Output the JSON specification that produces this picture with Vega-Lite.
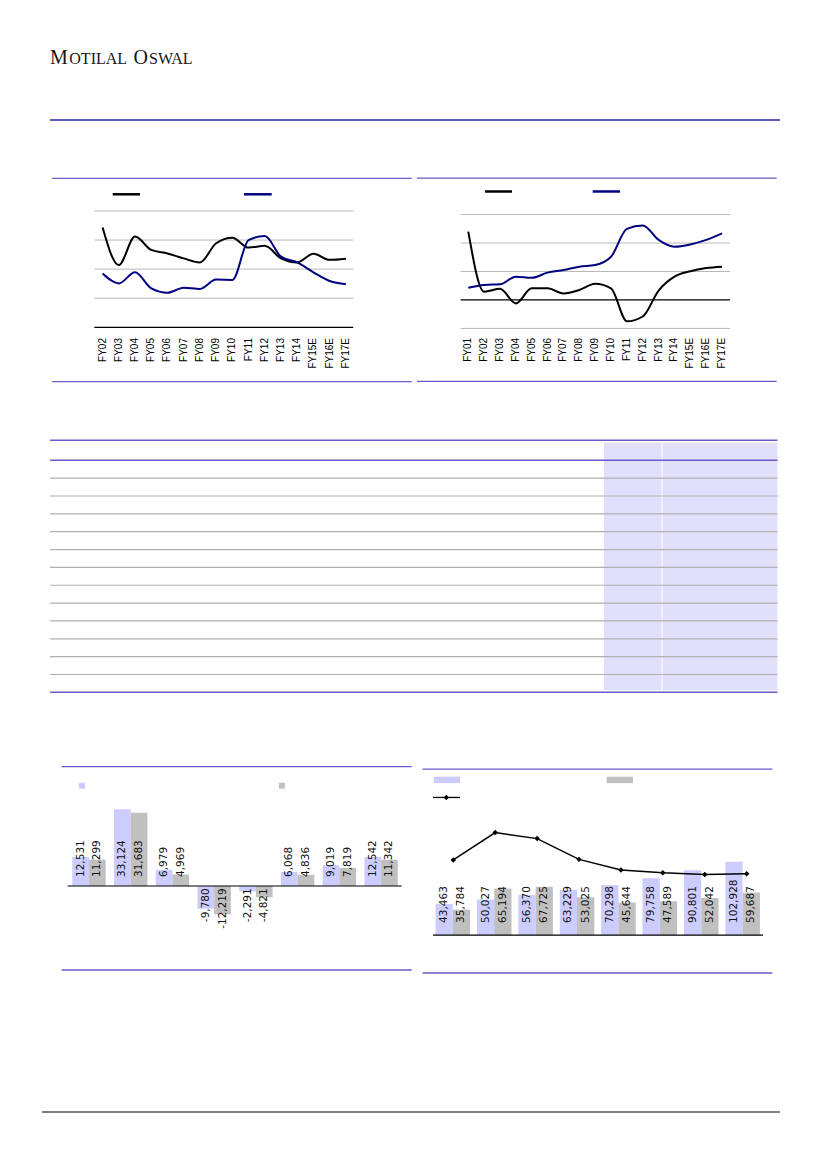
{
"$schema": "https://vega.github.io/schema/vega-lite/v6.json",
"width": 827, "height": 1169, "padding": 0,
"autosize": {"type": "fit", "contains": "padding"},
"background": "#ffffff",
"usermeta": {"embedOptions": {"actions": false}},
"config": {"view": {"stroke": null}, "locale": {"number": {"decimal": ".", "thousands": ",", "grouping": [3], "currency": ["", ""], "minus": "-"}}},
"data": {"values": [{}]},
"datasets": {
"tl": [
{"fy":"FY02","i":0,"a":3.43,"b":1.85},{"fy":"FY03","i":1,"a":2.14,"b":1.51},{"fy":"FY04","i":2,"a":3.12,"b":1.89},{"fy":"FY05","i":3,"a":2.66,"b":1.34},
{"fy":"FY06","i":4,"a":2.54,"b":1.19},{"fy":"FY07","i":5,"a":2.37,"b":1.36},{"fy":"FY08","i":6,"a":2.23,"b":1.32},{"fy":"FY09","i":7,"a":2.89,"b":1.64},
{"fy":"FY10","i":8,"a":3.08,"b":1.63},{"fy":"FY11","i":9,"a":2.74,"b":3.0},{"fy":"FY12","i":10,"a":2.8,"b":3.14},{"fy":"FY13","i":11,"a":2.37,"b":2.43},
{"fy":"FY14","i":12,"a":2.23,"b":2.23},{"fy":"FY15E","i":13,"a":2.53,"b":1.89},{"fy":"FY16E","i":14,"a":2.32,"b":1.59},{"fy":"FY17E","i":15,"a":2.36,"b":1.48}
],
"tr": [
{"fy":"FY01","i":0,"a":2.4,"b":0.43},{"fy":"FY02","i":1,"a":0.29,"b":0.53},{"fy":"FY03","i":2,"a":0.39,"b":0.55},{"fy":"FY04","i":3,"a":-0.12,"b":0.82},
{"fy":"FY05","i":4,"a":0.41,"b":0.78},{"fy":"FY06","i":5,"a":0.41,"b":0.96},{"fy":"FY07","i":6,"a":0.23,"b":1.05},{"fy":"FY08","i":7,"a":0.35,"b":1.17},
{"fy":"FY09","i":8,"a":0.57,"b":1.23},{"fy":"FY10","i":9,"a":0.41,"b":1.52},{"fy":"FY11","i":10,"a":-0.75,"b":2.5},{"fy":"FY12","i":11,"a":-0.58,"b":2.62},
{"fy":"FY13","i":12,"a":0.33,"b":2.11},{"fy":"FY14","i":13,"a":0.82,"b":1.87},{"fy":"FY15E","i":14,"a":1.01,"b":1.95},{"fy":"FY16E","i":15,"a":1.12,"b":2.11},
{"fy":"FY17E","i":16,"a":1.17,"b":2.34}
],
"bl": [
{"g":0,"a":12531,"b":11299},{"g":1,"a":33124,"b":31683},{"g":2,"a":6979,"b":4969},{"g":3,"a":-9780,"b":-12219},
{"g":4,"a":-2291,"b":-4821},{"g":5,"a":6068,"b":4836},{"g":6,"a":9019,"b":7819},{"g":7,"a":12542,"b":11342}
],
"br": [
{"g":0,"a":43463,"b":35784,"r":105.5},{"g":1,"a":50027,"b":65194,"r":143.9},{"g":2,"a":56370,"b":67725,"r":135.4},{"g":3,"a":63229,"b":53025,"r":106.3},
{"g":4,"a":70298,"b":45644,"r":91.4},{"g":5,"a":79758,"b":47589,"r":87.6},{"g":6,"a":90801,"b":52042,"r":85.2},{"g":7,"a":102928,"b":59687,"r":86.2}
]
},
"resolve": {"scale": {"x": "independent", "y": "independent"}},
"layer": [
{"layer": [
 {"mark": {"type": "rule", "color": "#2424a4", "strokeWidth": 1.3}, "encoding": {"x": {"datum": 50, "type": "quantitative", "scale": {"domain": [0, 827], "nice": false, "zero": false}, "axis": null}, "x2": {"datum": 780}, "y": {"datum": 120, "type": "quantitative", "scale": {"domain": [0, 1169], "nice": false, "zero": false, "reverse": true}, "axis": null}}},
 {"mark": {"type": "rule", "color": "#555555", "strokeWidth": 1.5}, "encoding": {"x": {"datum": 42, "type": "quantitative", "scale": {"domain": [0, 827], "nice": false, "zero": false}, "axis": null}, "x2": {"datum": 780}, "y": {"datum": 1112, "type": "quantitative", "scale": {"domain": [0, 1169], "nice": false, "zero": false, "reverse": true}, "axis": null}}},
 {"mark": {"type": "text", "text": "M", "font": "Liberation Serif", "fontSize": 20, "align": "left", "baseline": "alphabetic", "color": "#161616"}, "encoding": {"x": {"datum": 50, "type": "quantitative", "scale": {"domain": [0, 827], "nice": false, "zero": false}, "axis": null}, "y": {"datum": 64.3, "type": "quantitative", "scale": {"domain": [0, 1169], "nice": false, "zero": false, "reverse": true}, "axis": null}}},
 {"mark": {"type": "text", "text": "OTILAL", "font": "Liberation Serif", "fontSize": 16, "letterSpacing": 1.5, "align": "left", "baseline": "alphabetic", "color": "#161616"}, "encoding": {"x": {"datum": 69.3, "type": "quantitative", "scale": {"domain": [0, 827], "nice": false, "zero": false}, "axis": null}, "y": {"datum": 64.3, "type": "quantitative", "scale": {"domain": [0, 1169], "nice": false, "zero": false, "reverse": true}, "axis": null}}},
 {"mark": {"type": "text", "text": "O", "font": "Liberation Serif", "fontSize": 20, "align": "left", "baseline": "alphabetic", "color": "#161616"}, "encoding": {"x": {"datum": 133.5, "type": "quantitative", "scale": {"domain": [0, 827], "nice": false, "zero": false}, "axis": null}, "y": {"datum": 64.3, "type": "quantitative", "scale": {"domain": [0, 1169], "nice": false, "zero": false, "reverse": true}, "axis": null}}},
 {"mark": {"type": "text", "text": "SWAL", "font": "Liberation Serif", "fontSize": 16, "align": "left", "baseline": "alphabetic", "color": "#161616"}, "encoding": {"x": {"datum": 149, "type": "quantitative", "scale": {"domain": [0, 827], "nice": false, "zero": false}, "axis": null}, "y": {"datum": 64.3, "type": "quantitative", "scale": {"domain": [0, 1169], "nice": false, "zero": false, "reverse": true}, "axis": null}}}
]},
{"layer": [
 {"data": {"values": [{"t": 1}, {"t": 2}, {"t": 3}, {"t": 4}]}, "mark": {"type": "rule", "color": "#b8b8b8", "strokeWidth": 1}, "encoding": {"x": {"datum": -0.5117, "type": "quantitative", "scale": {"domain": [-6.3255, 44.661], "nice": false, "zero": false}, "axis": null}, "x2": {"datum": 15.456}, "y": {"field": "t", "type": "quantitative", "scale": {"domain": [-28.944, 11.255], "nice": false, "zero": false}, "axis": null}}},
 {"mark": {"type": "rule", "color": "#000000", "strokeWidth": 1.2}, "encoding": {"x": {"datum": -0.5117, "type": "quantitative", "scale": {"domain": [-6.3255, 44.661], "nice": false, "zero": false}, "axis": null}, "x2": {"datum": 15.456}, "y": {"datum": 0, "type": "quantitative", "scale": {"domain": [-28.944, 11.255], "nice": false, "zero": false}, "axis": null}}},
 {"mark": {"type": "rule", "color": "#6a5acd", "strokeWidth": 1.3}, "encoding": {"x": {"datum": -3.12, "type": "quantitative", "scale": {"domain": [-6.3255, 44.661], "nice": false, "zero": false}, "axis": null}, "x2": {"datum": 19.057}, "y": {"datum": 5.124, "type": "quantitative", "scale": {"domain": [-28.944, 11.255], "nice": false, "zero": false}, "axis": null}}},
 {"mark": {"type": "rule", "color": "#6a5acd", "strokeWidth": 1.3}, "encoding": {"x": {"datum": -3.12, "type": "quantitative", "scale": {"domain": [-6.3255, 44.661], "nice": false, "zero": false}, "axis": null}, "x2": {"datum": 19.057}, "y": {"datum": -1.871, "type": "quantitative", "scale": {"domain": [-28.944, 11.255], "nice": false, "zero": false}, "axis": null}}},
 {"mark": {"type": "rule", "color": "#000000", "strokeWidth": 2.5}, "encoding": {"x": {"datum": 0.6227, "type": "quantitative", "scale": {"domain": [-6.3255, 44.661], "nice": false, "zero": false}, "axis": null}, "x2": {"datum": 2.3058}, "y": {"datum": 4.574, "type": "quantitative", "scale": {"domain": [-28.944, 11.255], "nice": false, "zero": false}, "axis": null}}},
 {"mark": {"type": "rule", "color": "#000080", "strokeWidth": 2.5}, "encoding": {"x": {"datum": 8.7176, "type": "quantitative", "scale": {"domain": [-6.3255, 44.661], "nice": false, "zero": false}, "axis": null}, "x2": {"datum": 10.4254}, "y": {"datum": 4.574, "type": "quantitative", "scale": {"domain": [-28.944, 11.255], "nice": false, "zero": false}, "axis": null}}},
 {"data": {"name": "tl"}, "mark": {"type": "line", "color": "#000000", "strokeWidth": 2, "interpolate": "monotone"}, "encoding": {"x": {"field": "i", "type": "quantitative", "scale": {"domain": [-6.3255, 44.661], "nice": false, "zero": false}, "axis": null}, "y": {"field": "a", "type": "quantitative", "scale": {"domain": [-28.944, 11.255], "nice": false, "zero": false}, "axis": null}}},
 {"data": {"name": "tl"}, "mark": {"type": "line", "color": "#000080", "strokeWidth": 2, "interpolate": "monotone"}, "encoding": {"x": {"field": "i", "type": "quantitative", "scale": {"domain": [-6.3255, 44.661], "nice": false, "zero": false}, "axis": null}, "y": {"field": "b", "type": "quantitative", "scale": {"domain": [-28.944, 11.255], "nice": false, "zero": false}, "axis": null}}},
 {"data": {"name": "tl"}, "mark": {"type": "text", "angle": -90, "align": "right", "baseline": "middle", "font": "Liberation Sans", "fontSize": 10, "color": "#000000"}, "encoding": {"x": {"field": "i", "type": "quantitative", "scale": {"domain": [-6.3255, 44.661], "nice": false, "zero": false}, "axis": null}, "y": {"datum": -0.368, "type": "quantitative", "scale": {"domain": [-28.944, 11.255], "nice": false, "zero": false}, "axis": null}, "text": {"field": "fy"}}}
]},
{"layer": [
 {"data": {"values": [{"t": -1}, {"t": 1}, {"t": 2}, {"t": 3}]}, "mark": {"type": "rule", "color": "#b8b8b8", "strokeWidth": 1}, "encoding": {"x": {"datum": -0.479, "type": "quantitative", "scale": {"domain": [-29.527, 22.617], "nice": false, "zero": false}, "axis": null}, "x2": {"datum": 16.5}, "y": {"field": "t", "type": "quantitative", "scale": {"domain": [-30.526, 10.537], "nice": false, "zero": false}, "axis": null}}},
 {"mark": {"type": "rule", "color": "#000000", "strokeWidth": 1.2}, "encoding": {"x": {"datum": -0.479, "type": "quantitative", "scale": {"domain": [-29.527, 22.617], "nice": false, "zero": false}, "axis": null}, "x2": {"datum": 16.5}, "y": {"datum": 0, "type": "quantitative", "scale": {"domain": [-30.526, 10.537], "nice": false, "zero": false}, "axis": null}}},
 {"mark": {"type": "rule", "color": "#6a5acd", "strokeWidth": 1.3}, "encoding": {"x": {"datum": -3.2346, "type": "quantitative", "scale": {"domain": [-29.527, 22.617], "nice": false, "zero": false}, "axis": null}, "x2": {"datum": 19.445}, "y": {"datum": 4.281, "type": "quantitative", "scale": {"domain": [-30.526, 10.537], "nice": false, "zero": false}, "axis": null}}},
 {"mark": {"type": "rule", "color": "#6a5acd", "strokeWidth": 1.3}, "encoding": {"x": {"datum": -3.2346, "type": "quantitative", "scale": {"domain": [-29.527, 22.617], "nice": false, "zero": false}, "axis": null}, "x2": {"datum": 19.445}, "y": {"datum": -2.856, "type": "quantitative", "scale": {"domain": [-30.526, 10.537], "nice": false, "zero": false}, "axis": null}}},
 {"mark": {"type": "rule", "color": "#000000", "strokeWidth": 2.5}, "encoding": {"x": {"datum": 1.053, "type": "quantitative", "scale": {"domain": [-29.527, 22.617], "nice": false, "zero": false}, "axis": null}, "x2": {"datum": 2.755}, "y": {"datum": 3.811, "type": "quantitative", "scale": {"domain": [-30.526, 10.537], "nice": false, "zero": false}, "axis": null}}},
 {"mark": {"type": "rule", "color": "#000080", "strokeWidth": 2.5}, "encoding": {"x": {"datum": 7.844, "type": "quantitative", "scale": {"domain": [-29.527, 22.617], "nice": false, "zero": false}, "axis": null}, "x2": {"datum": 9.565}, "y": {"datum": 3.811, "type": "quantitative", "scale": {"domain": [-30.526, 10.537], "nice": false, "zero": false}, "axis": null}}},
 {"data": {"name": "tr"}, "mark": {"type": "line", "color": "#000000", "strokeWidth": 2, "interpolate": "monotone"}, "encoding": {"x": {"field": "i", "type": "quantitative", "scale": {"domain": [-29.527, 22.617], "nice": false, "zero": false}, "axis": null}, "y": {"field": "a", "type": "quantitative", "scale": {"domain": [-30.526, 10.537], "nice": false, "zero": false}, "axis": null}}},
 {"data": {"name": "tr"}, "mark": {"type": "line", "color": "#000080", "strokeWidth": 2, "interpolate": "monotone"}, "encoding": {"x": {"field": "i", "type": "quantitative", "scale": {"domain": [-29.527, 22.617], "nice": false, "zero": false}, "axis": null}, "y": {"field": "b", "type": "quantitative", "scale": {"domain": [-30.526, 10.537], "nice": false, "zero": false}, "axis": null}}},
 {"data": {"name": "tr"}, "mark": {"type": "text", "angle": -90, "align": "right", "baseline": "middle", "font": "Liberation Sans", "fontSize": 10, "color": "#000000"}, "encoding": {"x": {"field": "i", "type": "quantitative", "scale": {"domain": [-29.527, 22.617], "nice": false, "zero": false}, "axis": null}, "y": {"datum": -1.333, "type": "quantitative", "scale": {"domain": [-30.526, 10.537], "nice": false, "zero": false}, "axis": null}, "text": {"field": "fy"}}}
]},
{"layer": [
 {"mark": {"type": "rect", "color": "#e0e0fc"}, "encoding": {"x": {"datum": 6.002, "type": "quantitative", "scale": {"domain": [-4.335, 9.8185], "nice": false, "zero": false}, "axis": null}, "x2": {"datum": 6.986}, "y": {"datum": -0.986, "type": "quantitative", "scale": {"domain": [-25.787, 39.703], "nice": false, "zero": false, "reverse": true}, "axis": null}, "y2": {"datum": 12.885}}},
 {"mark": {"type": "rect", "color": "#e0e0fc"}, "encoding": {"x": {"datum": 7.003, "type": "quantitative", "scale": {"domain": [-4.335, 9.8185], "nice": false, "zero": false}, "axis": null}, "x2": {"datum": 8.971}, "y": {"datum": -0.986, "type": "quantitative", "scale": {"domain": [-25.787, 39.703], "nice": false, "zero": false, "reverse": true}, "axis": null}, "y2": {"datum": 12.885}}},
 {"data": {"values": [{"r": 1}, {"r": 2}, {"r": 3}, {"r": 4}, {"r": 5}, {"r": 6}, {"r": 7}, {"r": 8}, {"r": 9}, {"r": 10}, {"r": 11}, {"r": 12}]}, "mark": {"type": "rule", "color": "#b0b0b0", "strokeWidth": 1.2}, "encoding": {"x": {"datum": -3.478, "type": "quantitative", "scale": {"domain": [-4.335, 9.8185], "nice": false, "zero": false}, "axis": null}, "x2": {"datum": 8.971}, "y": {"field": "r", "type": "quantitative", "scale": {"domain": [-25.787, 39.703], "nice": false, "zero": false, "reverse": true}, "axis": null}}},
 {"mark": {"type": "rule", "color": "#6a5acd", "strokeWidth": 1.5}, "encoding": {"x": {"datum": -3.478, "type": "quantitative", "scale": {"domain": [-4.335, 9.8185], "nice": false, "zero": false}, "axis": null}, "x2": {"datum": 8.971}, "y": {"datum": -1.1204, "type": "quantitative", "scale": {"domain": [-25.787, 39.703], "nice": false, "zero": false, "reverse": true}, "axis": null}}},
 {"mark": {"type": "rule", "color": "#6a5acd", "strokeWidth": 1.5}, "encoding": {"x": {"datum": -3.478, "type": "quantitative", "scale": {"domain": [-4.335, 9.8185], "nice": false, "zero": false}, "axis": null}, "x2": {"datum": 8.971}, "y": {"datum": 0, "type": "quantitative", "scale": {"domain": [-25.787, 39.703], "nice": false, "zero": false, "reverse": true}, "axis": null}}},
 {"mark": {"type": "rule", "color": "#6a5acd", "strokeWidth": 1.5}, "encoding": {"x": {"datum": -3.478, "type": "quantitative", "scale": {"domain": [-4.335, 9.8185], "nice": false, "zero": false}, "axis": null}, "x2": {"datum": 8.971}, "y": {"datum": 13, "type": "quantitative", "scale": {"domain": [-25.787, 39.703], "nice": false, "zero": false, "reverse": true}, "axis": null}}}
]},
{"layer": [
 {"mark": {"type": "rule", "color": "#6a5acd", "strokeWidth": 1.3}, "encoding": {"x": {"datum": -0.6558, "type": "quantitative", "scale": {"domain": [-2.0123, 17.566], "nice": false, "zero": false}, "axis": null}, "x2": {"datum": 7.734}, "y": {"datum": 51523, "type": "quantitative", "scale": {"domain": [-122220, 382639], "nice": false, "zero": false}, "axis": null}}},
 {"mark": {"type": "rule", "color": "#6a5acd", "strokeWidth": 1.3}, "encoding": {"x": {"datum": -0.6558, "type": "quantitative", "scale": {"domain": [-2.0123, 17.566], "nice": false, "zero": false}, "axis": null}, "x2": {"datum": 7.734}, "y": {"datum": -36277, "type": "quantitative", "scale": {"domain": [-122220, 382639], "nice": false, "zero": false}, "axis": null}}},
 {"data": {"name": "bl"}, "mark": {"type": "bar", "color": "#ccccff", "width": 16.7, "xOffset": -8.35}, "encoding": {"x": {"field": "g", "type": "quantitative", "scale": {"domain": [-2.0123, 17.566], "nice": false, "zero": false}, "axis": null}, "y": {"field": "a", "type": "quantitative", "scale": {"domain": [-122220, 382639], "nice": false, "zero": false}, "axis": null}, "y2": {"datum": 0}}},
 {"data": {"name": "bl"}, "mark": {"type": "bar", "color": "#c0c0c0", "width": 16.7, "xOffset": 8.35}, "encoding": {"x": {"field": "g", "type": "quantitative", "scale": {"domain": [-2.0123, 17.566], "nice": false, "zero": false}, "axis": null}, "y": {"field": "b", "type": "quantitative", "scale": {"domain": [-122220, 382639], "nice": false, "zero": false}, "axis": null}, "y2": {"datum": 0}}},
 {"mark": {"type": "rule", "color": "#000000", "strokeWidth": 1.2}, "encoding": {"x": {"datum": -0.514, "type": "quantitative", "scale": {"domain": [-2.0123, 17.566], "nice": false, "zero": false}, "axis": null}, "x2": {"datum": 7.495}, "y": {"datum": 0, "type": "quantitative", "scale": {"domain": [-122220, 382639], "nice": false, "zero": false}, "axis": null}}},
 {"data": {"name": "bl"}, "transform": [{"filter": "datum.a >= 0"}], "mark": {"type": "text", "angle": -90, "align": "left", "baseline": "middle", "dx": 9, "xOffset": -8.35, "font": "DejaVu Sans", "fontSize": 10.5, "color": "#111111"}, "encoding": {"x": {"field": "g", "type": "quantitative", "scale": {"domain": [-2.0123, 17.566], "nice": false, "zero": false}, "axis": null}, "y": {"datum": 0, "type": "quantitative", "scale": {"domain": [-122220, 382639], "nice": false, "zero": false}, "axis": null}, "text": {"field": "a", "type": "quantitative", "format": ","}}},
 {"data": {"name": "bl"}, "transform": [{"filter": "datum.a < 0"}], "mark": {"type": "text", "angle": -90, "align": "right", "baseline": "middle", "dx": -2.3, "xOffset": -8.35, "font": "DejaVu Sans", "fontSize": 10.5, "color": "#111111"}, "encoding": {"x": {"field": "g", "type": "quantitative", "scale": {"domain": [-2.0123, 17.566], "nice": false, "zero": false}, "axis": null}, "y": {"datum": 0, "type": "quantitative", "scale": {"domain": [-122220, 382639], "nice": false, "zero": false}, "axis": null}, "text": {"field": "a", "type": "quantitative", "format": ","}}},
 {"data": {"name": "bl"}, "transform": [{"filter": "datum.b >= 0"}], "mark": {"type": "text", "angle": -90, "align": "left", "baseline": "middle", "dx": 9, "xOffset": 8.35, "font": "DejaVu Sans", "fontSize": 10.5, "color": "#111111"}, "encoding": {"x": {"field": "g", "type": "quantitative", "scale": {"domain": [-2.0123, 17.566], "nice": false, "zero": false}, "axis": null}, "y": {"datum": 0, "type": "quantitative", "scale": {"domain": [-122220, 382639], "nice": false, "zero": false}, "axis": null}, "text": {"field": "b", "type": "quantitative", "format": ","}}},
 {"data": {"name": "bl"}, "transform": [{"filter": "datum.b < 0"}], "mark": {"type": "text", "angle": -90, "align": "right", "baseline": "middle", "dx": -2.3, "xOffset": 8.35, "font": "DejaVu Sans", "fontSize": 10.5, "color": "#111111"}, "encoding": {"x": {"field": "g", "type": "quantitative", "scale": {"domain": [-2.0123, 17.566], "nice": false, "zero": false}, "axis": null}, "y": {"datum": 0, "type": "quantitative", "scale": {"domain": [-122220, 382639], "nice": false, "zero": false}, "axis": null}, "text": {"field": "b", "type": "quantitative", "format": ","}}},
 {"mark": {"type": "square", "color": "#ccccff", "size": 36, "opacity": 1}, "encoding": {"x": {"datum": -0.1657, "type": "quantitative", "scale": {"domain": [-2.0123, 17.566], "nice": false, "zero": false}, "axis": null}, "y": {"datum": 43317, "type": "quantitative", "scale": {"domain": [-122220, 382639], "nice": false, "zero": false}, "axis": null}}},
 {"mark": {"type": "square", "color": "#c0c0c0", "size": 36, "opacity": 1}, "encoding": {"x": {"datum": 4.6236, "type": "quantitative", "scale": {"domain": [-2.0123, 17.566], "nice": false, "zero": false}, "axis": null}, "y": {"datum": 43317, "type": "quantitative", "scale": {"domain": [-122220, 382639], "nice": false, "zero": false}, "axis": null}}}
]},
{"layer": [
 {"mark": {"type": "rule", "color": "#6a5acd", "strokeWidth": 1.3}, "encoding": {"x": {"datum": -0.7301, "type": "quantitative", "scale": {"domain": [-10.816, 8.917], "nice": false, "zero": false}, "axis": null}, "x2": {"datum": 7.717}, "y": {"datum": 232584, "type": "quantitative", "scale": {"domain": [-327388, 1309410], "nice": false, "zero": false}, "axis": null}}},
 {"mark": {"type": "rule", "color": "#6a5acd", "strokeWidth": 1.3}, "encoding": {"x": {"datum": -0.7301, "type": "quantitative", "scale": {"domain": [-10.816, 8.917], "nice": false, "zero": false}, "axis": null}, "x2": {"datum": 7.717}, "y": {"datum": -52949, "type": "quantitative", "scale": {"domain": [-327388, 1309410], "nice": false, "zero": false}, "axis": null}}},
 {"data": {"name": "br"}, "mark": {"type": "bar", "color": "#ccccff", "width": 17.3, "xOffset": -8.65}, "encoding": {"x": {"field": "g", "type": "quantitative", "scale": {"domain": [-10.816, 8.917], "nice": false, "zero": false}, "axis": null}, "y": {"field": "a", "type": "quantitative", "scale": {"domain": [-327388, 1309410], "nice": false, "zero": false}, "axis": null}, "y2": {"datum": 0}}},
 {"data": {"name": "br"}, "mark": {"type": "bar", "color": "#c0c0c0", "width": 17.3, "xOffset": 8.65}, "encoding": {"x": {"field": "g", "type": "quantitative", "scale": {"domain": [-10.816, 8.917], "nice": false, "zero": false}, "axis": null}, "y": {"field": "b", "type": "quantitative", "scale": {"domain": [-327388, 1309410], "nice": false, "zero": false}, "axis": null}, "y2": {"datum": 0}}},
 {"mark": {"type": "rule", "color": "#000000", "strokeWidth": 1.2}, "encoding": {"x": {"datum": -0.4772, "type": "quantitative", "scale": {"domain": [-10.816, 8.917], "nice": false, "zero": false}, "axis": null}, "x2": {"datum": 7.492}, "y": {"datum": 0, "type": "quantitative", "scale": {"domain": [-327388, 1309410], "nice": false, "zero": false}, "axis": null}}},
 {"data": {"name": "br"}, "mark": {"type": "text", "angle": -90, "align": "left", "baseline": "middle", "dx": 12.3, "xOffset": -8.65, "font": "DejaVu Sans", "fontSize": 10.5, "color": "#111111"}, "encoding": {"x": {"field": "g", "type": "quantitative", "scale": {"domain": [-10.816, 8.917], "nice": false, "zero": false}, "axis": null}, "y": {"datum": 0, "type": "quantitative", "scale": {"domain": [-327388, 1309410], "nice": false, "zero": false}, "axis": null}, "text": {"field": "a", "type": "quantitative", "format": ","}}},
 {"data": {"name": "br"}, "mark": {"type": "text", "angle": -90, "align": "left", "baseline": "middle", "dx": 12.3, "xOffset": 8.65, "font": "DejaVu Sans", "fontSize": 10.5, "color": "#111111"}, "encoding": {"x": {"field": "g", "type": "quantitative", "scale": {"domain": [-10.816, 8.917], "nice": false, "zero": false}, "axis": null}, "y": {"datum": 0, "type": "quantitative", "scale": {"domain": [-327388, 1309410], "nice": false, "zero": false}, "axis": null}, "text": {"field": "b", "type": "quantitative", "format": ","}}},
 {"mark": {"type": "rect", "color": "#ccccff"}, "encoding": {"x": {"datum": -0.4605, "type": "quantitative", "scale": {"domain": [-10.816, 8.917], "nice": false, "zero": false}, "axis": null}, "x2": {"datum": 0.1766}, "y": {"datum": 212921, "type": "quantitative", "scale": {"domain": [-327388, 1309410], "nice": false, "zero": false}, "axis": null}, "y2": {"datum": 221910}}},
 {"mark": {"type": "rect", "color": "#c0c0c0"}, "encoding": {"x": {"datum": 3.715, "type": "quantitative", "scale": {"domain": [-10.816, 8.917], "nice": false, "zero": false}, "axis": null}, "x2": {"datum": 4.352}, "y": {"datum": 212921, "type": "quantitative", "scale": {"domain": [-327388, 1309410], "nice": false, "zero": false}, "axis": null}, "y2": {"datum": 221910}}},
 {"mark": {"type": "rule", "color": "#000000", "strokeWidth": 1.3}, "encoding": {"x": {"datum": -0.4772, "type": "quantitative", "scale": {"domain": [-10.816, 8.917], "nice": false, "zero": false}, "axis": null}, "x2": {"datum": 0.1766}, "y": {"datum": 192837, "type": "quantitative", "scale": {"domain": [-327388, 1309410], "nice": false, "zero": false}, "axis": null}}},
 {"mark": {"type": "point", "shape": "diamond", "filled": true, "size": 30, "color": "#000000", "opacity": 1}, "encoding": {"x": {"datum": -0.1575, "type": "quantitative", "scale": {"domain": [-10.816, 8.917], "nice": false, "zero": false}, "axis": null}, "y": {"datum": 192837, "type": "quantitative", "scale": {"domain": [-327388, 1309410], "nice": false, "zero": false}, "axis": null}}}
]},
{"data": {"name": "br"}, "mark": {"type": "line", "color": "#000000", "strokeWidth": 1.5, "point": {"shape": "diamond", "filled": true, "size": 30, "color": "#000000", "opacity": 1}}, "encoding": {"x": {"field": "g", "type": "quantitative", "scale": {"domain": [-10.816, 8.917], "nice": false, "zero": false}, "axis": null}, "y": {"field": "r", "type": "quantitative", "scale": {"domain": [-327.85, 1311.25], "nice": false, "zero": false}, "axis": null}}}
]
}
